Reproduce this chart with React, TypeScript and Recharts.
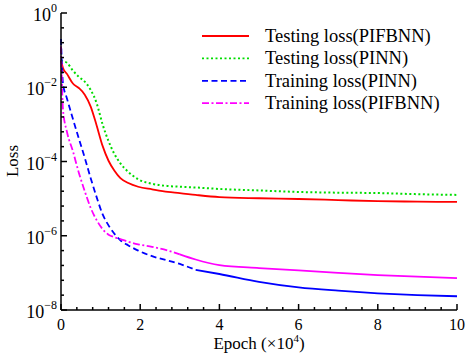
import React from 'react';
import { LineChart, Line, XAxis, YAxis, Legend } from 'recharts';

// epoch in units of 1e4, losses stored as log10 values
const epochs = [0, 0.05, 0.15, 0.3, 0.45, 0.6, 0.75, 0.9, 1.05, 1.2, 1.35, 1.5, 1.7, 1.95, 2.3, 2.7, 3.0, 3.4, 4, 5, 6, 7, 8, 9, 10];
const testPifbnn = [-1.28, -1.48, -1.64, -1.9, -2.02, -2.2, -2.52, -3.03, -3.58, -3.98, -4.25, -4.45, -4.58, -4.68, -4.75, -4.82, -4.85, -4.9, -4.96, -4.99, -5.01, -5.04, -5.07, -5.08, -5.09];
const testPinn = [-1.28, -1.3, -1.34, -1.55, -1.72, -1.85, -2.07, -2.43, -3.0, -3.45, -3.8, -4.05, -4.28, -4.48, -4.6, -4.66, -4.68, -4.7, -4.74, -4.78, -4.82, -4.84, -4.85, -4.88, -4.9];
const trainPinn = [-0.7, -1.9, -2.3, -2.85, -3.38, -3.9, -4.45, -4.96, -5.42, -5.72, -5.95, -6.12, -6.26, -6.4, -6.55, -6.67, -6.76, -6.92, -7.03, -7.24, -7.39, -7.48, -7.55, -7.6, -7.63];
const trainPifbnn = [-0.9, -2.6, -3.2, -3.72, -4.3, -4.8, -5.25, -5.58, -5.82, -5.97, -6.04, -6.09, -6.16, -6.23, -6.3, -6.4, -6.5, -6.64, -6.79, -6.87, -6.93, -7.0, -7.06, -7.1, -7.14];

const xTicks = [0, 0.4, 0.8, 1.2, 1.6, 2, 2.4, 2.8, 3.2, 3.6, 4, 4.4, 4.8, 5.2, 5.6, 6, 6.4, 6.8, 7.2, 7.6, 8, 8.4, 8.8, 9.2, 9.6, 10];
const yTicks = [0, -0.4, -0.8, -1.2, -1.6, -2, -2.4, -2.8, -3.2, -3.6, -4, -4.4, -4.8, -5.2, -5.6, -6, -6.4, -6.8, -7.2, -7.6, -8];

const series = [
  { name: 'Testing loss(PIFBNN)', color: '#ff0000', dash: undefined },
  { name: 'Testing loss(PINN)', color: '#00dd00', dash: '2 2.5' },
  { name: 'Training loss(PINN)', color: '#0000ff', dash: '6 3.5' },
  { name: 'Training loss(PIFBNN)', color: '#ff00ff', dash: '7 2.5 2 2.5' },
];

// the dense tails of the training curves look solid in the original
const data = epochs.map((e, i) => ({
  epoch: e,
  testPifbnn: testPifbnn[i],
  testPinn: testPinn[i],
  trainPinn: e <= 3.4 ? trainPinn[i] : null,
  trainPinnTail: e >= 3.4 ? trainPinn[i] : null,
  trainPifbnn: e <= 3.0 ? trainPifbnn[i] : null,
  trainPifbnnTail: e >= 3.0 ? trainPifbnn[i] : null,
}));

const FONT = '"Liberation Serif", "Times New Roman", serif';

const isMajor = (v: number) => Math.abs(v - Math.round(v)) < 1e-6 && Math.round(v) % 2 === 0;

const XTick = (props: any) => {
  const { x, y, payload } = props;
  const major = isMajor(payload.value);
  return (
    <g>
      <line x1={x} x2={x} y1={y} y2={y - (major ? 6 : 3)} stroke="#000" strokeWidth={1.5} />
      {major && (
        <text x={x} y={y + 20} textAnchor="middle" fontSize={16} fontFamily={FONT} fill="#000">
          {Math.round(payload.value)}
        </text>
      )}
    </g>
  );
};

const YTick = (props: any) => {
  const { x, y, payload } = props;
  const major = isMajor(payload.value);
  const exp = Math.round(payload.value);
  return (
    <g>
      <line x1={x} x2={x + (major ? 6 : 3)} y1={y} y2={y} stroke="#000" strokeWidth={1.5} />
      {major && (
        <text x={x - 4} y={y + 8} textAnchor="end" fontSize={18} fontFamily={FONT} fill="#000">
          10
          <tspan dy={-9} fontSize={12}>
            {exp === 0 ? '0' : '\u2212' + Math.abs(exp)}
          </tspan>
        </text>
      )}
    </g>
  );
};

const YTitle = () => (
  <text x={18} y={161} transform="rotate(-90 18 161)" textAnchor="middle" fontSize={17} fontFamily={FONT} fill="#000">
    Loss
  </text>
);

const XTitle = () => (
  <text x={259} y={349} textAnchor="middle" fontSize={17} fontFamily={FONT} fill="#000">
    Epoch ({'\u00d7'}10
    <tspan dy={-7} fontSize={11}>4</tspan>
    <tspan dy={7}>)</tspan>
  </text>
);

const LegendBox = () => (
  <svg width={270} height={95}>
    {series.map((s, i) => {
      const cy = 14 + i * 22.4;
      return (
        <g key={s.name}>
          <line x1={7} x2={54} y1={cy} y2={cy} stroke={s.color} strokeWidth={1.8} strokeDasharray={s.dash} />
          <text x={70} y={cy + 6} fontSize={18.5} fontFamily={FONT} fill="#000">
            {s.name}
          </text>
        </g>
      );
    })}
  </svg>
);

export default function App() {
  return (
    <div style={{ position: 'absolute', left: 0, top: 0, background: '#fff' }}>
      <LineChart width={472} height={360} data={data} margin={{ top: 13, right: 15, bottom: 0, left: 0 }}>
        <XAxis
          dataKey="epoch"
          type="number"
          domain={[0, 10]}
          ticks={xTicks}
          interval={0}
          height={50}
          tickSize={0}
          tickMargin={0}
          tickLine={false}
          tick={<XTick />}
          axisLine={{ stroke: '#000', strokeWidth: 1.5 }}
          label={<XTitle />}
        />
        <XAxis
          xAxisId="top"
          orientation="top"
          type="number"
          domain={[0, 10]}
          height={0}
          tick={false}
          tickLine={false}
          axisLine={{ stroke: '#000', strokeWidth: 1.5 }}
        />
        <YAxis
          type="number"
          domain={[-8, 0]}
          ticks={yTicks}
          interval={0}
          width={61}
          tickSize={0}
          tickMargin={0}
          tickLine={false}
          tick={<YTick />}
          axisLine={{ stroke: '#000', strokeWidth: 1.5 }}
          label={<YTitle />}
        />
        <YAxis
          yAxisId="right"
          orientation="right"
          type="number"
          domain={[-8, 0]}
          width={0}
          tick={false}
          tickLine={false}
          axisLine={{ stroke: '#000', strokeWidth: 1.5 }}
        />
        <Legend
          layout="vertical"
          align="center"
          verticalAlign="middle"
          wrapperStyle={{ left: 195, top: 22, width: 270, height: 95 }}
          content={<LegendBox />}
        />
        <Line name={series[0].name} dataKey="testPifbnn" type="monotone" stroke={series[0].color} strokeWidth={1.8} dot={false} activeDot={false} isAnimationActive={false} />
        <Line name={series[1].name} dataKey="testPinn" type="monotone" stroke={series[1].color} strokeWidth={2} strokeDasharray={series[1].dash} dot={false} activeDot={false} isAnimationActive={false} />
        <Line name={series[2].name} dataKey="trainPinn" type="monotone" stroke={series[2].color} strokeWidth={1.8} strokeDasharray={series[2].dash} dot={false} activeDot={false} isAnimationActive={false} />
        <Line dataKey="trainPinnTail" legendType="none" type="monotone" stroke={series[2].color} strokeWidth={1.8} dot={false} activeDot={false} isAnimationActive={false} />
        <Line name={series[3].name} dataKey="trainPifbnn" type="monotone" stroke={series[3].color} strokeWidth={1.8} strokeDasharray={series[3].dash} dot={false} activeDot={false} isAnimationActive={false} />
        <Line dataKey="trainPifbnnTail" legendType="none" type="monotone" stroke={series[3].color} strokeWidth={1.8} dot={false} activeDot={false} isAnimationActive={false} />
      </LineChart>
    </div>
  );
}
